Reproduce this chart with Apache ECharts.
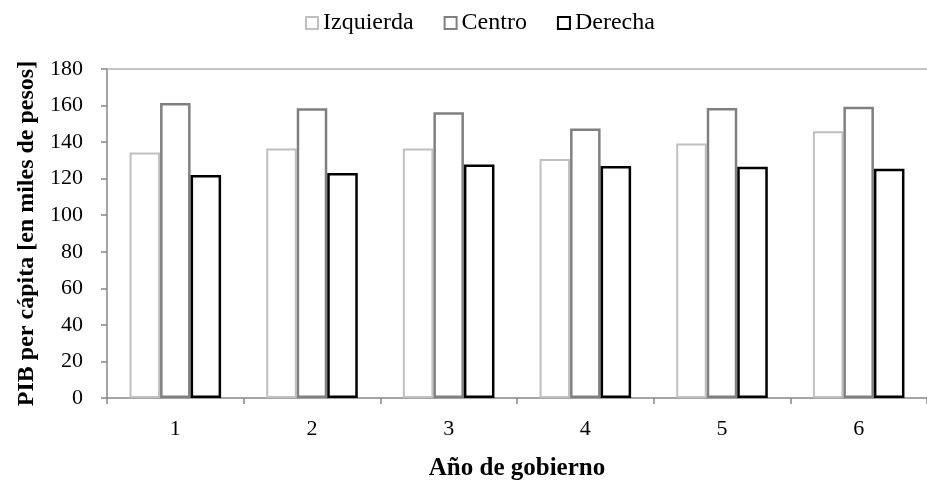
<!DOCTYPE html>
<html>
<head>
<meta charset="utf-8">
<script src="https://cdn.jsdelivr.net/npm/echarts@6/dist/echarts.min.js"></script>
<style>
  html, body { margin: 0; padding: 0; background: #fff; }
  #main { width: 927px; height: 486px; }
</style>
</head>
<body>
<div id="main"></div>
<script>
  // datos
  var categorias = ['1', '2', '3', '4', '5', '6'];
  var izquierda = [134.3, 136.5, 136.5, 130.7, 139.3, 146.0];
  var centro = [161.4, 158.5, 156.3, 147.5, 158.7, 159.4];
  var derecha = [122.0, 123.1, 127.8, 126.9, 126.5, 125.4];
  var yTicks = [0, 20, 40, 60, 80, 100, 120, 140, 160, 180];

  var fuente = '"Liberation Serif", "Times New Roman", serif';
  var myChart = echarts.init(document.getElementById('main'));

  function serie(nombre, datos, borde, ancho) {
    return {
      name: nombre,
      type: 'bar',
      data: datos,
      barGap: '0%',
      barCategoryGap: '33%',
      xAxisIndex: 0,
      itemStyle: {
        color: '#ffffff',
        borderColor: borde,
        borderWidth: ancho
      },
      emphasis: { disabled: true },
      animation: false
    };
  }

  myChart.setOption({
    animation: false,
    textStyle: { fontFamily: fuente },
    legend: {
      top: 6,
      left: 300,
      icon: 'rect',
      itemWidth: 12,
      itemHeight: 12,
      itemGap: 30,
      textStyle: { fontFamily: fuente, fontSize: 24, color: '#000' },
      data: ['Izquierda', 'Centro', 'Derecha']
    },
    grid: {
      left: 107,
      top: 69,
      width: 831,
      height: 332,
      containLabel: false
    },
    xAxis: [{
      type: 'category',
      data: categorias,
      name: 'Año de gobierno',
      nameLocation: 'middle',
      nameGap: 58,
      nameTextStyle: { fontFamily: fuente, fontSize: 25, fontWeight: 'bold', color: '#000' },
      axisLine: { lineStyle: { color: '#868686', width: 1.5 } },
      axisTick: { show: true, length: 6, lineStyle: { color: '#868686', width: 1.5 } },
      axisLabel: { fontFamily: fuente, fontSize: 22, color: '#000', margin: 20 },
      splitLine: { show: false }
    }, {
      type: 'category',
      data: categorias,
      position: 'top',
      axisLine: { lineStyle: { color: '#b3b3b3', width: 1.5 } },
      axisTick: { show: false },
      axisLabel: { show: false },
      splitLine: { show: false }
    }],
    yAxis: {
      type: 'value',
      min: yTicks[0],
      max: yTicks[yTicks.length - 1],
      interval: 20,
      name: 'PIB per cápita [en miles de pesos]',
      nameLocation: 'middle',
      nameGap: 64,
      nameRotate: 90,
      nameTextStyle: { fontFamily: fuente, fontSize: 24, fontWeight: 'bold', color: '#000' },
      axisLine: { show: true, lineStyle: { color: '#868686', width: 1.5 } },
      axisTick: { show: true, length: 6, lineStyle: { color: '#868686', width: 1.5 } },
      axisLabel: { fontFamily: fuente, fontSize: 22, color: '#000', margin: 24 },
      splitLine: { show: false }
    },
    series: [
      serie('Izquierda', izquierda, '#c0c0c0', 2),
      serie('Centro', centro, '#808080', 2.5),
      serie('Derecha', derecha, '#000000', 2.5)
    ]
  });
</script>
</body>
</html>
